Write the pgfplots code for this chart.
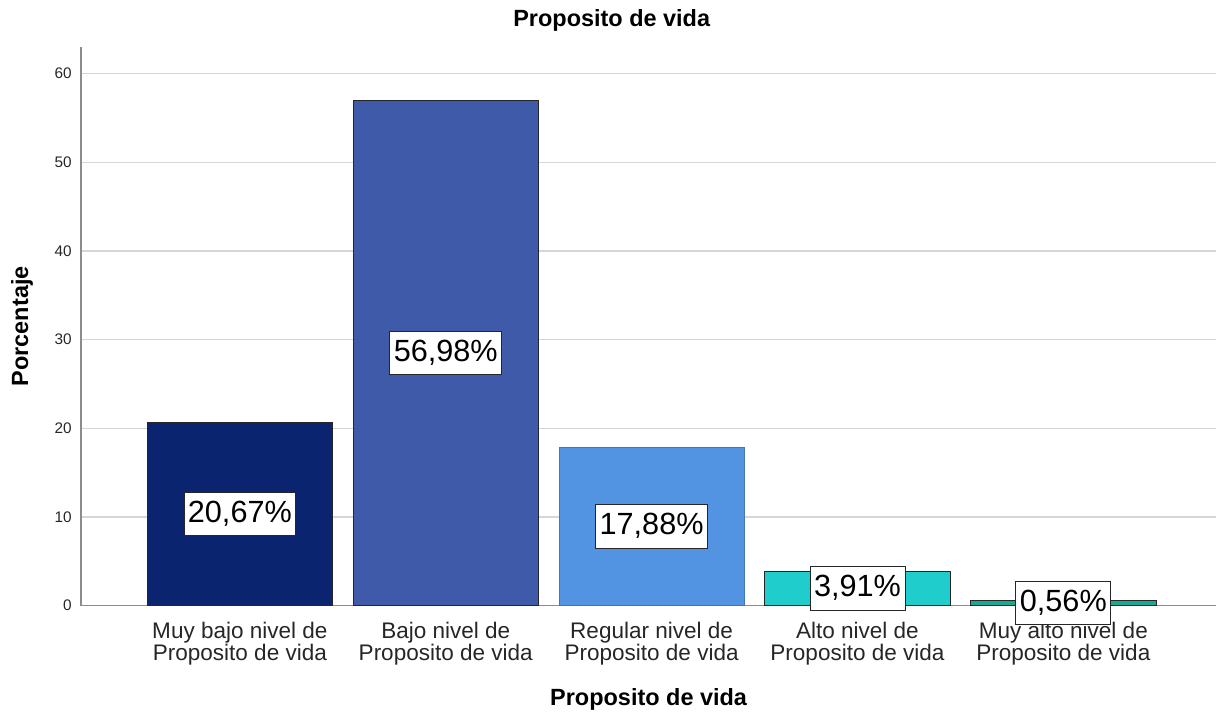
\documentclass[border=0pt]{standalone}
\usepackage{pgfplots}
\pgfplotsset{compat=1.18}
\usepackage{fontspec}
\setmainfont{Liberation Sans}
\definecolor{cone}{HTML}{0A2470}
\definecolor{ctwo}{HTML}{3E5AA8}
\definecolor{cthree}{HTML}{5294E2}
\definecolor{cfour}{HTML}{1ECDCC}
\definecolor{cfive}{HTML}{18A992}
\definecolor{gridc}{HTML}{D6D6D6}
\definecolor{axisc}{HTML}{8C8C8C}
\begin{document}
\begin{tikzpicture}
\begin{axis}[
  scale only axis,
  width=852pt, height=419.25pt,
  ybar, bar width=0.9,
  xmin=-0.772, xmax=4.743,
  ymin=0, ymax=63,
  axis lines*=left,
  axis line style={axisc, line width=1.1pt},
  ytick={0,10,...,60},
  ymajorgrids=true,
  grid style={gridc, line width=1.1pt},
  major tick length=0pt,
  xtick={0,1,2,3,4},
  xticklabels={{Muy bajo nivel de\\Proposito de vida},{Bajo nivel de\\Proposito de vida},{Regular nivel de\\Proposito de vida},{Alto nivel de\\Proposito de vida},{Muy alto nivel de\\Proposito de vida}},
  xticklabel style={align=center, inner sep=0pt, yshift=-12pt, font=\fontsize{16.9}{16.5}\selectfont, text=black!85},
  yticklabel style={inner xsep=0pt, xshift=-6.75pt, font=\fontsize{11.5}{13}\selectfont, text=black!85},
  /pgf/number format/assume math mode=true,
  title={Proposito de vida},
  title style={font=\bfseries\fontsize{17.6}{20}\selectfont, at={(axis description cs:0.4675,1)}, anchor=center, yshift=14.25pt},
  xlabel={Proposito de vida},
  xlabel style={font=\bfseries\fontsize{17.6}{20}\selectfont, at={(axis description cs:0.5,0)}, anchor=center, yshift=-70.5pt},
  ylabel={Porcentaje},
  ylabel style={font=\bfseries\fontsize{17.6}{20}\selectfont, at={(axis description cs:-0.0519,0.5)}, anchor=center},
  visualization depends on=rawy \as \rawy,
  nodes near coords={\pgfmathprintnumber[fixed, fixed zerofill, precision=2, use comma, assume math mode=true]{\pgfplotspointmeta}\%},
  every node near coord/.append style={anchor=center, shift={(axis direction cs:0,-\rawy/2)},
    fill=white, draw=black!85, line width=0.6pt, text=black,
    font=\fontsize{23}{26}\selectfont, text height=17pt, text depth=4.5pt,
    inner xsep=3pt, inner ysep=5.5pt},
]
\addplot[fill=cone, draw=black!85, line width=0.6pt, bar shift=0pt] coordinates {(0,20.67)};
\addplot[fill=ctwo, draw=black!85, line width=0.6pt, bar shift=0pt] coordinates {(1,56.98)};
\addplot[fill=cthree, draw=cthree!80!black, line width=0.4pt, bar shift=0pt] coordinates {(2,17.88)};
\addplot[fill=cfour, draw=black!85, line width=0.6pt, bar shift=0pt] coordinates {(3,3.91)};
\addplot[fill=cfive, draw=black!85, line width=0.6pt, bar shift=0pt] coordinates {(4,0.56)};
\end{axis}
\path (current axis.south west) ++(-60.75pt,-80.25pt) coordinate (bbsw);
\path (current axis.north east) ++(0pt,35.25pt) coordinate (bbne);
\path (bbsw) rectangle (bbne);
\end{tikzpicture}
\end{document}
